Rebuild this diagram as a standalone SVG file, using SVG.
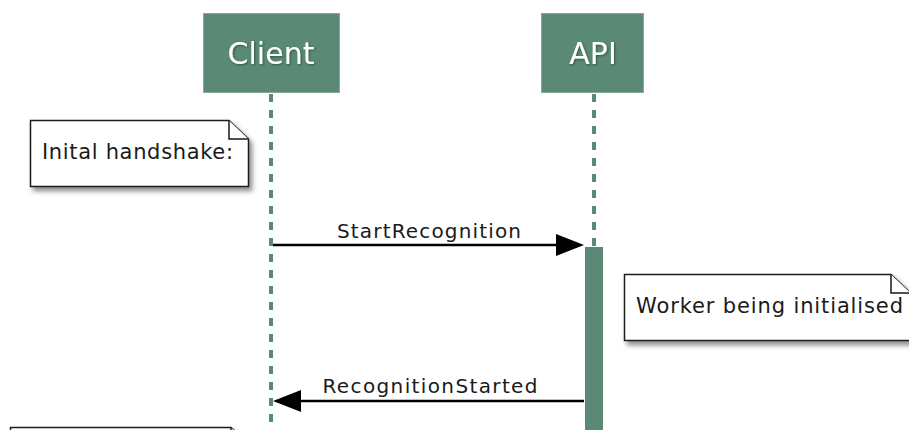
<svg xmlns="http://www.w3.org/2000/svg" width="909" height="430" viewBox="0 0 909 430">
<style>
.actor{fill:#5a8a75;stroke:#86aa98;stroke-width:1}
.atext{font-family:"DejaVu Sans",sans-serif;font-size:30px;fill:#ffffff;text-anchor:middle}
.life{stroke:#5a8a75;stroke-width:4;stroke-dasharray:8 8;fill:none}
.act{fill:#5a8a75}
.note{fill:#ffffff;stroke:#1a1a1a;stroke-width:1.5}
.fold{fill:#ffffff;stroke:#1a1a1a;stroke-width:1.5}
.ntext{font-family:"DejaVu Sans",sans-serif;font-size:21px;fill:#1a1a1a}
.mtext{font-family:"DejaVu Sans",sans-serif;font-size:20px;fill:#1a1a1a;text-anchor:middle}
.msg{stroke:#000;stroke-width:2.5;fill:none}
</style>
<defs>
<filter id="sh" x="-10%" y="-10%" width="130%" height="140%">
<feDropShadow dx="3" dy="4" stdDeviation="2.5" flood-color="#000" flood-opacity="0.45"/>
</filter>
<filter id="ts" x="-10%" y="-10%" width="130%" height="140%">
<feDropShadow dx="1" dy="1" stdDeviation="0.8" flood-color="#1e3a2e" flood-opacity="0.7"/>
</filter>
</defs>
<rect width="909" height="430" fill="#ffffff"/>
<g id="lifelines">
<line class="life" x1="271" y1="94" x2="271" y2="430"/>
<line class="life" x1="594" y1="94" x2="594" y2="430"/>
</g>
<g id="client">
<rect class="actor" x="203.5" y="13.5" width="136" height="79"/>
<text class="atext" x="271" y="64" filter="url(#ts)">Client</text>
</g>
<g id="api">
<rect class="actor" x="541.5" y="13.5" width="102" height="79"/>
<text class="atext" x="593" y="64" filter="url(#ts)">API</text>
</g>
<g id="api-activation">
<rect class="act" x="585" y="247" width="18" height="190"/>
</g>
<g id="note-handshake">
<path class="note" filter="url(#sh)" d="M30.5 120.5 H229 L248.5 139 V186.5 H30.5 Z"/>
<path class="fold" d="M229 120.5 V139 H248.5"/>
<text class="ntext" x="42" y="159" textLength="191" lengthAdjust="spacing">Inital handshake:</text>
</g>
<g id="note-worker">
<path class="note" filter="url(#sh)" d="M624.5 274.5 H891 L910.5 293 V340.5 H624.5 Z"/>
<path class="fold" d="M891 274.5 V293 H910.5"/>
<text class="ntext" x="636" y="313" textLength="267" lengthAdjust="spacing">Worker being initialised</text>
</g>
<g id="note-bottom">
<path class="note" filter="url(#sh)" d="M10.5 427.5 H231 L250.5 446 V480 H10.5 Z"/>
<path class="fold" d="M231 427.5 V446 H250.5"/>
</g>
<g id="connectors">
<line class="msg" x1="273" y1="245" x2="558" y2="245"/>
<polygon points="584,245 556,234 556,256" fill="#000"/>
<text class="mtext" x="429" y="238" textLength="184" lengthAdjust="spacing">StartRecognition</text>
<line class="msg" x1="584" y1="401" x2="298" y2="401"/>
<polygon points="273,401 301,390 301,412" fill="#000"/>
<text class="mtext" x="430" y="393" textLength="215" lengthAdjust="spacing">RecognitionStarted</text>
</g>
</svg>
